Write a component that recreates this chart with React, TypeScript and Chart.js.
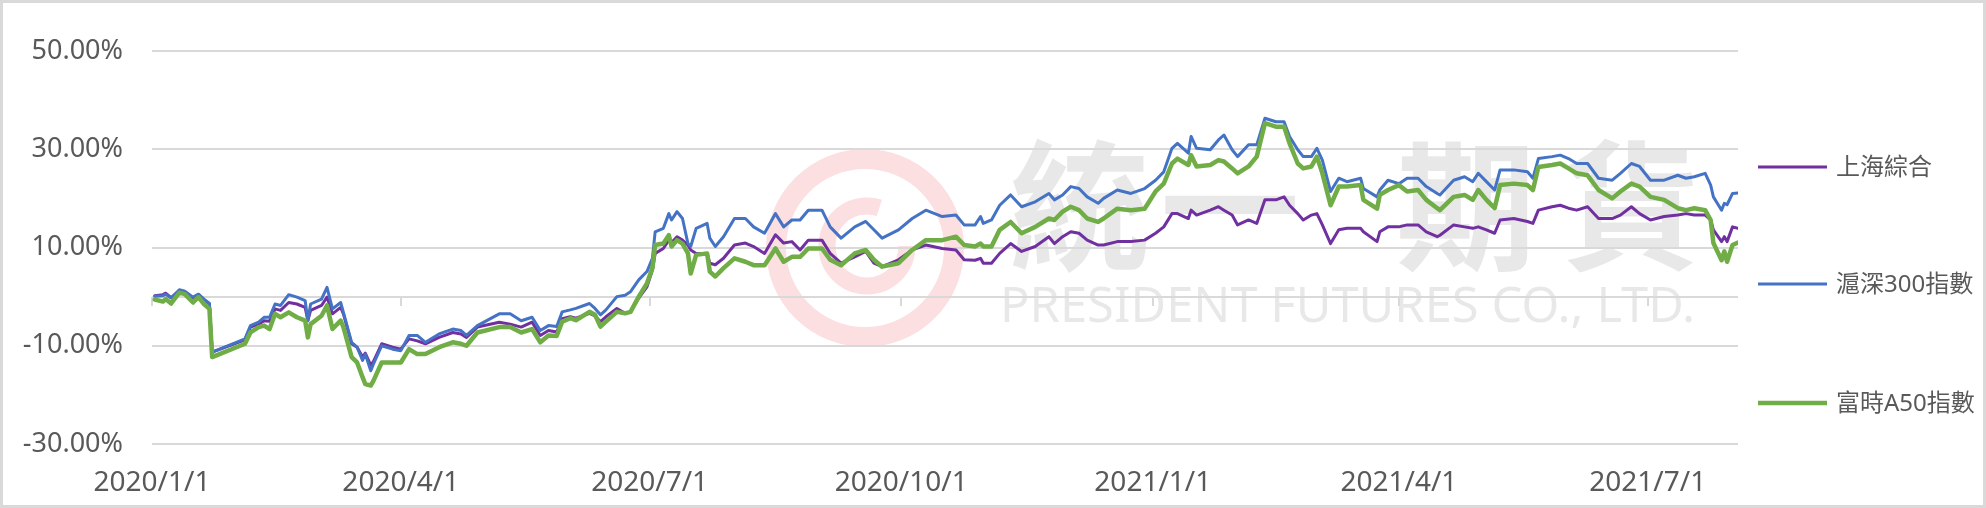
import React, { useEffect, useRef } from "react";
import { Chart, registerables } from "chart.js";

Chart.register(...registerables);

const dates = [
  "2020-01-02","2020-01-05","2020-01-06","2020-01-08","2020-01-11","2020-01-13","2020-01-16","2020-01-18","2020-01-20","2020-01-22",
  "2020-01-23","2020-02-04","2020-02-06","2020-02-09","2020-02-11","2020-02-13","2020-02-15","2020-02-17","2020-02-20","2020-02-23",
  "2020-02-26","2020-02-27","2020-02-28","2020-03-03","2020-03-05","2020-03-07","2020-03-10","2020-03-11","2020-03-14","2020-03-16",
  "2020-03-18","2020-03-19","2020-03-21","2020-03-22","2020-03-25","2020-03-29","2020-04-01","2020-04-04","2020-04-07","2020-04-10",
  "2020-04-15","2020-04-20","2020-04-23","2020-04-25","2020-04-29","2020-05-07","2020-05-11","2020-05-15","2020-05-19","2020-05-22",
  "2020-05-25","2020-05-28","2020-05-30","2020-06-02","2020-06-04","2020-06-09","2020-06-11","2020-06-13","2020-06-15","2020-06-19",
  "2020-06-22","2020-06-24","2020-06-27","2020-06-30","2020-07-02","2020-07-03","2020-07-06","2020-07-08","2020-07-09","2020-07-11",
  "2020-07-13","2020-07-15","2020-07-16","2020-07-18","2020-07-22","2020-07-23","2020-07-25","2020-07-28","2020-08-01","2020-08-05",
  "2020-08-08","2020-08-12","2020-08-16","2020-08-19","2020-08-22","2020-08-25","2020-08-28","2020-09-02","2020-09-05","2020-09-09",
  "2020-09-14","2020-09-18","2020-09-21","2020-09-24","2020-09-30","2020-10-05","2020-10-10","2020-10-16","2020-10-21","2020-10-24",
  "2020-10-28","2020-10-30","2020-10-31","2020-11-03","2020-11-06","2020-11-10","2020-11-14","2020-11-19","2020-11-24","2020-11-26",
  "2020-11-29","2020-12-02","2020-12-05","2020-12-08","2020-12-12","2020-12-14","2020-12-19","2020-12-24","2020-12-29","2021-01-02",
  "2021-01-05","2021-01-08","2021-01-10","2021-01-14","2021-01-15","2021-01-17","2021-01-22","2021-01-25","2021-01-27","2021-01-30",
  "2021-02-01","2021-02-05","2021-02-08","2021-02-11","2021-02-15","2021-02-18","2021-02-20","2021-02-23","2021-02-25","2021-02-28",
  "2021-03-02","2021-03-04","2021-03-07","2021-03-10","2021-03-13","2021-03-18","2021-03-19","2021-03-24","2021-03-25","2021-03-28",
  "2021-04-01","2021-04-04","2021-04-08","2021-04-11","2021-04-15","2021-04-16","2021-04-21","2021-04-25","2021-04-28","2021-04-30",
  "2021-05-03","2021-05-06","2021-05-08","2021-05-13","2021-05-18","2021-05-20","2021-05-22","2021-05-27","2021-05-30","2021-06-02",
  "2021-06-05","2021-06-09","2021-06-13","2021-06-18","2021-06-21","2021-06-25","2021-06-28","2021-07-02","2021-07-07","2021-07-12",
  "2021-07-15","2021-07-18","2021-07-22","2021-07-24","2021-07-25","2021-07-28","2021-07-29","2021-07-30","2021-08-01","2021-08-03",
];

// 上海綜合 (%)
const shComposite = [
  0.2, 0.4, 0.7, -0.2, 1.2, 0.9, -0.3, 0.4, -0.6, -1.5,
  -11.3, -8.8, -6.2, -5.6, -4.9, -5.0, -2.5, -2.8, -1.2, -1.5,
  -2.2, -4.9, -2.8, -1.8, -0.1, -3.5, -2.2, -3.5, -9.6, -10.3,
  -12.3, -11.5, -14.0, -13.2, -9.6, -10.3, -10.7, -8.6, -9.0, -9.6,
  -8.3, -7.3, -7.6, -8.3, -6.2, -5.2, -5.6, -6.2, -5.2, -7.9,
  -6.9, -7.2, -4.5, -4.1, -4.4, -3.4, -3.9, -5.1, -4.1, -2.4,
  -3.4, -3.1, -0.3, 2.0, 5.4, 8.8, 9.8, 11.5, 11.0, 12.2,
  11.5, 10.5, 9.5, 8.8, 8.8, 6.8, 6.5, 7.8, 10.5, 10.9,
  10.2, 8.8, 12.6, 10.9, 11.2, 9.5, 11.5, 11.5, 8.8, 6.8,
  8.1, 9.2, 6.8, 6.1, 7.5, 9.5, 10.5, 9.8, 9.5, 7.5,
  7.4, 7.8, 6.8, 6.8, 8.8, 10.8, 9.2, 10.2, 12.2, 10.8,
  12.2, 13.2, 12.9, 11.5, 10.5, 10.5, 11.2, 11.2, 11.5, 12.9,
  14.2, 16.9, 16.9, 15.9, 17.6, 16.6, 17.6, 18.3, 17.6, 16.6,
  14.6, 15.6, 14.9, 19.7, 19.7, 20.3, 18.6, 16.9, 15.6, 16.6,
  16.9, 14.6, 10.8, 13.6, 13.9, 13.9, 13.2, 11.2, 13.2, 14.2,
  14.2, 14.6, 14.6, 13.2, 12.2, 12.5, 14.6, 14.2, 13.9, 14.2,
  13.6, 12.9, 15.6, 15.9, 15.3, 14.9, 17.6, 18.3, 18.6, 18.0,
  17.6, 18.3, 15.9, 15.9, 16.6, 18.3, 16.9, 15.6, 16.3, 16.6,
  16.9, 16.6, 16.6, 15.6, 13.6, 11.2, 12.2, 11.2, 14.2, 13.9,
];

// 滬深300指數 (%)
const hs300 = [
  0.1, 0.2, 0.5, -0.3, 1.4, 1.1, -0.1, 0.5, -0.5, -1.4,
  -11.3, -8.6, -5.9, -5.2, -4.2, -4.2, -1.5, -1.8, 0.4, -0.1,
  -0.8, -4.9, -1.5, -0.5, 1.9, -2.5, -1.2, -3.2, -9.3, -10.3,
  -13.0, -11.7, -15.1, -13.7, -10.0, -10.7, -11.0, -7.9, -7.9, -9.3,
  -7.6, -6.6, -6.9, -7.9, -5.9, -3.5, -3.5, -4.9, -4.2, -6.9,
  -5.9, -6.1, -3.1, -2.7, -2.4, -1.4, -2.4, -3.7, -2.7, 0.0,
  0.3, 1.0, 3.4, 5.1, 7.8, 13.2, 13.9, 16.9, 15.6, 17.3,
  15.9, 10.8, 10.2, 13.9, 14.9, 11.9, 10.2, 12.2, 15.9, 15.9,
  14.2, 12.9, 16.9, 14.2, 15.6, 15.6, 17.6, 17.6, 14.2, 11.9,
  14.2, 15.3, 13.6, 11.9, 13.6, 15.9, 17.6, 16.3, 16.6, 14.6,
  14.6, 16.3, 14.9, 15.6, 18.6, 20.7, 18.3, 19.3, 21.0, 19.7,
  20.7, 22.4, 22.0, 20.3, 19.0, 20.0, 21.7, 21.0, 22.0, 23.7,
  25.4, 30.2, 31.2, 29.2, 32.6, 30.2, 29.9, 31.9, 32.9, 29.9,
  28.5, 30.9, 30.9, 36.3, 35.6, 35.6, 32.6, 29.9, 28.5, 28.5,
  30.2, 27.8, 21.4, 24.1, 23.4, 24.1, 22.0, 20.3, 21.7, 23.7,
  23.0, 24.1, 24.1, 22.4, 21.0, 20.7, 23.7, 24.4, 23.4, 25.1,
  23.4, 21.7, 25.8, 25.8, 25.4, 24.1, 28.1, 28.5, 28.8, 28.1,
  27.1, 27.1, 24.1, 23.7, 25.1, 27.1, 26.5, 23.7, 23.7, 24.7,
  24.1, 24.4, 25.1, 22.7, 20.3, 17.6, 19.0, 18.7, 21.0, 21.1,
];

// 富時A50指數 (%)
const a50 = [
  -0.6, -1.0, -0.5, -1.4, 0.8, 0.5, -1.2, -0.1, -1.5, -2.5,
  -12.3, -9.6, -7.3, -6.2, -5.9, -6.6, -3.5, -4.2, -3.2, -4.2,
  -4.9, -8.3, -5.6, -3.9, -1.8, -6.6, -4.9, -6.2, -12.3, -13.4,
  -16.4, -17.8, -18.1, -17.1, -13.4, -13.4, -13.4, -10.7, -11.7, -11.7,
  -10.3, -9.3, -9.6, -10.0, -7.3, -6.2, -6.2, -7.3, -6.6, -9.3,
  -7.9, -8.0, -5.1, -4.4, -4.8, -3.1, -3.7, -6.1, -5.1, -3.1,
  -3.4, -3.1, 0.0, 2.7, 5.8, 10.5, 10.8, 12.5, 10.2, 11.5,
  10.8, 8.8, 4.7, 8.5, 8.8, 5.1, 4.1, 5.8, 7.8, 7.1,
  6.4, 6.4, 9.8, 7.1, 8.1, 8.1, 9.8, 9.8, 7.5, 6.4,
  8.8, 9.5, 7.5, 6.1, 6.8, 9.5, 11.5, 11.5, 12.2, 10.5,
  10.2, 10.8, 10.2, 10.2, 13.6, 15.2, 12.9, 14.2, 15.9, 15.6,
  17.3, 18.3, 17.6, 15.9, 15.2, 15.9, 17.9, 17.6, 17.9, 21.4,
  23.0, 27.1, 28.1, 26.8, 28.8, 26.5, 26.8, 27.8, 27.5, 26.1,
  25.1, 26.5, 28.5, 35.3, 34.6, 34.6, 31.2, 27.1, 26.1, 26.5,
  28.5, 25.1, 18.6, 22.4, 22.4, 22.7, 19.7, 17.9, 20.7, 21.7,
  22.7, 21.4, 21.7, 19.7, 18.0, 17.6, 20.3, 20.7, 19.7, 21.7,
  19.7, 18.0, 22.7, 23.0, 22.7, 21.7, 26.4, 26.8, 27.1, 26.1,
  25.1, 24.7, 21.7, 20.0, 21.4, 23.0, 22.4, 20.3, 19.7, 18.0,
  17.6, 18.0, 17.6, 15.6, 10.9, 7.4, 9.2, 7.1, 10.5, 11.0,
];

const seriesNames = ["上海綜合", "滬深300指數", "富時A50指數"];
const seriesColors = ["#7030A0", "#4472C4", "#70AD47"];
const seriesWidths = [3, 3, 4.5];

const tickDates = ["2020-01-01", "2020-04-01", "2020-07-01", "2020-10-01", "2021-01-01", "2021-04-01", "2021-07-01"];
const tickLabels = ["2020/1/1", "2020/4/1", "2020/7/1", "2020/10/1", "2021/1/1", "2021/4/1", "2021/7/1"];

const axisStart = "2020-01-01";
const axisEnd = "2021-08-03";
const yMin = -30;
const yMax = 50;
const yStep = 20;

const FONT = '"Noto Sans", "Noto Sans CJK TC", sans-serif';
const TEXT_COLOR = "#595959";
const GRID_COLOR = "#d9d9d9";

const EPOCH = Date.UTC(2020, 0, 1);
function dayOf(s: string): number {
  const [y, m, d] = s.split("-").map(Number);
  return Math.round((Date.UTC(y, m - 1, d) - EPOCH) / 86400000);
}
const tickDays = tickDates.map(dayOf);

const decorPlugin = {
  id: "decor",
  beforeDraw(chart: any) {
    const ctx = chart.ctx;
    ctx.save();
    ctx.fillStyle = "#ffffff";
    ctx.fillRect(0, 0, chart.width, chart.height);
    // watermark
    ctx.strokeStyle = "rgba(232,80,90,0.18)";
    ctx.lineWidth = 20;
    ctx.beginPath();
    ctx.arc(865, 248, 89, 0, Math.PI * 2);
    ctx.stroke();
    ctx.lineWidth = 17;
    ctx.beginPath();
    ctx.arc(867, 246, 40, 0, Math.PI * 1.6);
    ctx.stroke();
    ctx.fillStyle = "rgba(0,0,0,0.09)";
    ctx.textAlign = "center";
    ctx.textBaseline = "middle";
    ctx.font = 'bold 140px "Noto Sans CJK TC"';
    const chars: [string, number][] = [["統", 1080], ["一", 1230], ["期", 1466], ["貨", 1631]];
    chars.forEach(([c, x]) => ctx.fillText(c, x, 206));
    ctx.textAlign = "left";
    ctx.font = '50px "Noto Sans"';
    ctx.fillText("PRESIDENT FUTURES CO., LTD.", 1000, 308, 695);
    ctx.restore();
  },
  beforeDatasetsDraw(chart: any) {
    const ctx = chart.ctx;
    const area = chart.chartArea;
    const y0 = Math.round(chart.scales.y.getPixelForValue(0));
    ctx.save();
    ctx.strokeStyle = GRID_COLOR;
    ctx.lineWidth = 2;
    ctx.beginPath();
    ctx.moveTo(area.left, y0);
    ctx.lineTo(area.right, y0);
    tickDays.forEach((d) => {
      const x = Math.round(chart.scales.x.getPixelForValue(d));
      ctx.moveTo(x, y0);
      ctx.lineTo(x, y0 + 9);
    });
    ctx.stroke();
    ctx.restore();
  },
  afterDraw(chart: any) {
    const ctx = chart.ctx;
    const area = chart.chartArea;
    ctx.save();
    const ys = [167, 284, 403];
    const x0 = area.right + 20;
    seriesNames.forEach((name, i) => {
      ctx.strokeStyle = seriesColors[i];
      ctx.lineWidth = seriesWidths[i];
      ctx.beginPath();
      ctx.moveTo(x0, ys[i]);
      ctx.lineTo(x0 + 69, ys[i]);
      ctx.stroke();
      ctx.fillStyle = TEXT_COLOR;
      ctx.font = `24px ${FONT}`;
      ctx.textAlign = "left";
      ctx.textBaseline = "middle";
      ctx.fillText(name, x0 + 78, ys[i] + 1);
    });
    ctx.strokeStyle = "#d9d9d9";
    ctx.lineWidth = 3;
    ctx.strokeRect(1.5, 1.5, chart.width - 3, chart.height - 3);
    ctx.restore();
  },
};

export default function App() {
  const ref = useRef<HTMLCanvasElement>(null);
  useEffect(() => {
    const toPoints = (vals: number[]) => dates.map((d, i) => ({ x: dayOf(d), y: vals[i] }));
    const series = [shComposite, hs300, a50];
    const chart = new Chart(ref.current as HTMLCanvasElement, {
      type: "line",
      data: {
        datasets: series.map((vals, i) => ({
          label: seriesNames[i],
          data: toPoints(vals),
          borderColor: seriesColors[i],
          borderWidth: seriesWidths[i],
          pointRadius: 0,
          tension: 0,
          fill: false,
          order: 3 - i,
        })),
      },
      options: {
        responsive: false,
        animation: false,
        devicePixelRatio: 1,
        layout: { padding: { top: 51, right: 248, bottom: 0, left: 0 } },
        plugins: { legend: { display: false }, tooltip: { enabled: false } },
        elements: { line: { borderJoinStyle: "round", borderCapStyle: "round" } },
        scales: {
          x: {
            type: "linear",
            min: dayOf(axisStart),
            max: dayOf(axisEnd),
            grid: { display: false, drawTicks: false },
            border: { display: false },
            afterBuildTicks: (s: any) => {
              s.ticks = tickDays.map((v) => ({ value: v }));
            },
            afterFit: (s: any) => {
              s.height = 64;
            },
            ticks: {
              autoSkip: false,
              maxRotation: 0,
              padding: 22,
              color: TEXT_COLOR,
              font: { size: 28, family: FONT },
              callback: (v: any) => {
                const i = tickDays.indexOf(Number(v));
                return i >= 0 ? tickLabels[i] : "";
              },
            },
          },
          y: {
            min: yMin,
            max: yMax,
            grid: { color: GRID_COLOR, lineWidth: 2, drawTicks: false },
            border: { display: false },
            afterFit: (s: any) => {
              s.width = 152;
            },
            ticks: {
              stepSize: yStep,
              padding: 29,
              color: TEXT_COLOR,
              font: { size: 27, family: FONT },
              callback: (v: any) => Number(v).toFixed(2) + "%",
            },
          },
        },
      },
      plugins: [decorPlugin],
    } as any);
    return () => chart.destroy();
  }, []);
  return (
    <div style={{ position: "absolute", left: 0, top: 0, width: 1986, height: 508, background: "#fff" }}>
      <canvas ref={ref} width={1986} height={508} style={{ display: "block" }} />
    </div>
  );
}
